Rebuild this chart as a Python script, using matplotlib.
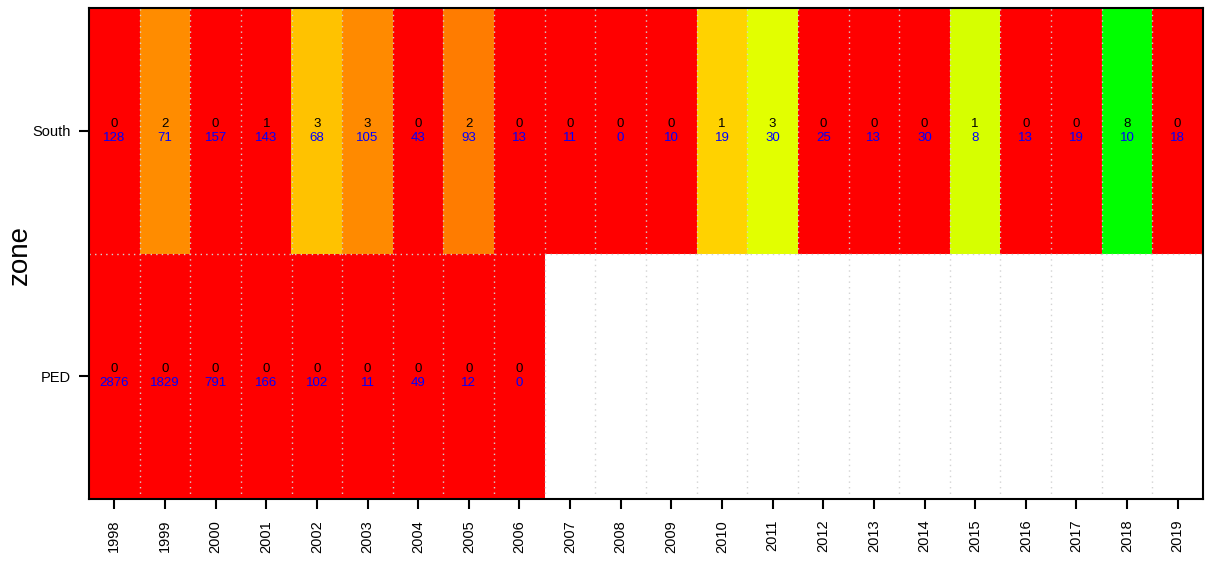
import matplotlib
matplotlib.use("Agg")
import matplotlib.pyplot as plt
import numpy as np
from matplotlib.colors import to_rgba

plt.rcParams['font.family'] = ['Liberation Sans', 'DejaVu Sans']

years = list(range(1998, 2020))
zones = ["PED", "South"]

south_hits = [0, 2, 0, 1, 3, 3, 0, 2, 0, 0, 0, 0, 1, 3, 0, 0, 0, 1, 0, 0, 8, 0]
south_total = [128, 71, 157, 143, 68, 105, 43, 93, 13, 11, 0, 10, 19, 30, 25, 13, 30, 8, 13, 19, 10, 18]
south_colors = ["#FF0000", "#FF8C00", "#FF0000", "#FF0000", "#FFC200", "#FF8A00", "#FF0000", "#FF7C00",
                "#FF0000", "#FF0000", "#FF0000", "#FF0000", "#FFD200", "#E2FF00", "#FF0000", "#FF0000",
                "#FF0000", "#D6FF00", "#FF0000", "#FF0000", "#00FF00", "#FF0000"]

ped_hits = [0, 0, 0, 0, 0, 0, 0, 0, 0]
ped_total = [2876, 1829, 791, 166, 102, 11, 49, 12, 0]
ped_colors = ["#FF0000"] * 9

fig = plt.figure(figsize=(12.1, 5.62), dpi=100)
ax = fig.add_axes([89/1210, 1 - 499/562, (1203-89)/1210, (499-8)/562])

n = len(years)
img = np.ones((2, n, 4))
for i, c in enumerate(ped_colors):
    img[0, i] = to_rgba(c)
for i, c in enumerate(south_colors):
    img[1, i] = to_rgba(c)
ax.imshow(img, origin='lower', aspect='auto', interpolation='nearest',
          extent=(-0.5, n - 0.5, -0.5, 1.5))

# grid lines at cell boundaries
for xb in np.arange(0.5, n - 0.5, 1):
    ax.axvline(xb, color='#D3D3D3', linestyle=(0, (1, 3)), linewidth=1.0)
ax.axhline(0.5, color='#D3D3D3', linestyle=(0, (1, 3)), linewidth=1.0)

fs = 9.5
for i in range(n):
    ax.text(i, 1 + 0.029, str(south_hits[i]), ha='center', va='center', fontsize=fs, color='black')
    ax.text(i, 1 - 0.029, str(south_total[i]), ha='center', va='center', fontsize=fs, color='blue')
for i in range(len(ped_hits)):
    ax.text(i, 0 + 0.029, str(ped_hits[i]), ha='center', va='center', fontsize=fs, color='black')
    ax.text(i, 0 - 0.029, str(ped_total[i]), ha='center', va='center', fontsize=fs, color='blue')

ax.set_xlim(-0.5, n - 0.5)
ax.set_ylim(-0.5, 1.5)
ax.set_xticks(range(n))
ax.set_xticklabels([str(y) for y in years], rotation=90, fontsize=10.5)
ax.set_yticks([0, 1])
ax.set_yticklabels(zones, fontsize=10.5)
ax.tick_params(axis='x', length=7, width=1.5, pad=8)
ax.tick_params(axis='y', length=7, width=1.5, pad=6)
fig.text(20/1210, 1 - 255/562, "zone", rotation=90, ha='center', va='center', fontsize=20)
for s in ax.spines.values():
    s.set_linewidth(1.5)

fig.savefig("out.png", dpi=100)
